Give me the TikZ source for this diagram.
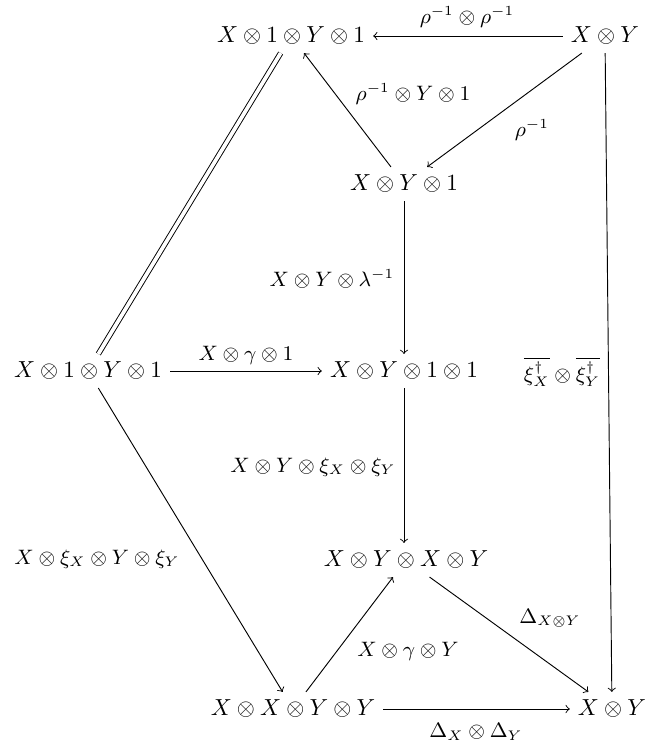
\documentclass[tikz,border=0pt]{standalone}
\usepackage{amsmath}
\begin{document}
\begin{tikzpicture}[x=0.431pt, y=-0.431pt,
  obj/.style={inner sep=3.33pt},
  lbl/.style={font=\small, inner sep=1pt},
  arr/.style={->, line width=0.4pt},
  eqline/.style={double, double distance=1.6pt, line width=0.4pt}]
\useasboundingbox (0,0) rectangle (648,742);
% objects
\node[obj] (A) at (291,36)  {$X\otimes 1\otimes Y\otimes 1$};
\node[obj] (B) at (605,36)  {$X\otimes Y$};
\node[obj] (C) at (404,184) {$X\otimes Y\otimes 1$};
\node[obj] (D) at (88,371)  {$X\otimes 1\otimes Y\otimes 1$};
\node[obj] (E) at (404,371) {$X\otimes Y\otimes 1\otimes 1$};
\node[obj] (F) at (406,560) {$X\otimes Y\otimes X\otimes Y$};
\node[obj] (G) at (293,709) {$X\otimes X\otimes Y\otimes Y$};
\node[obj] (H) at (612,709) {$X\otimes Y$};
% connectors
\draw[arr] (B) -- (A);
\draw[arr] (B) -- (C);
\draw[arr] (C) -- (A);
\draw[eqline] (A) -- (D);
\draw[arr] (D) -- (E);
\draw[arr] (C) -- (E);
\draw[arr] (E.south) -- (E.south |- F.north);
\draw[arr] (D) -- (G);
\draw[arr] (G) -- (F);
\draw[arr] (F) -- (H);
\draw[arr] (G) -- (H);
\draw[arr] (B) -- (H);
% labels
\node[lbl] (l1) at (467,17)  {$\rho^{-1}\otimes\rho^{-1}$};
\node[lbl] (l2) at (413,94)  {$\rho^{-1}\otimes Y\otimes 1$};
\node[lbl] (l3) at (532,130) {$\rho^{-1}$};
\node[lbl] (l4) at (332,279) {$X\otimes Y\otimes\lambda^{-1}$};
\node[lbl] (l5) at (246,355) {$X\otimes\gamma\otimes 1$};
\node[lbl] (l6) at (313,467) {$X\otimes Y\otimes\xi_X\otimes\xi_Y$};
\node[lbl] (l7) at (97,559)  {$X\otimes\xi_X\otimes Y\otimes\xi_Y$};
\node[lbl] (l8) at (408,651) {$X\otimes\gamma\otimes Y$};
\node[lbl] (l9) at (550,618) {$\Delta_{X\otimes Y}$};
\node[lbl] (l10) at (476,732) {$\Delta_X\otimes\Delta_Y$};
\node[lbl] (l11) at (562,372) {$\overline{\xi_X^\dagger}\otimes\overline{\xi_Y^\dagger}$};
\end{tikzpicture}
\end{document}
